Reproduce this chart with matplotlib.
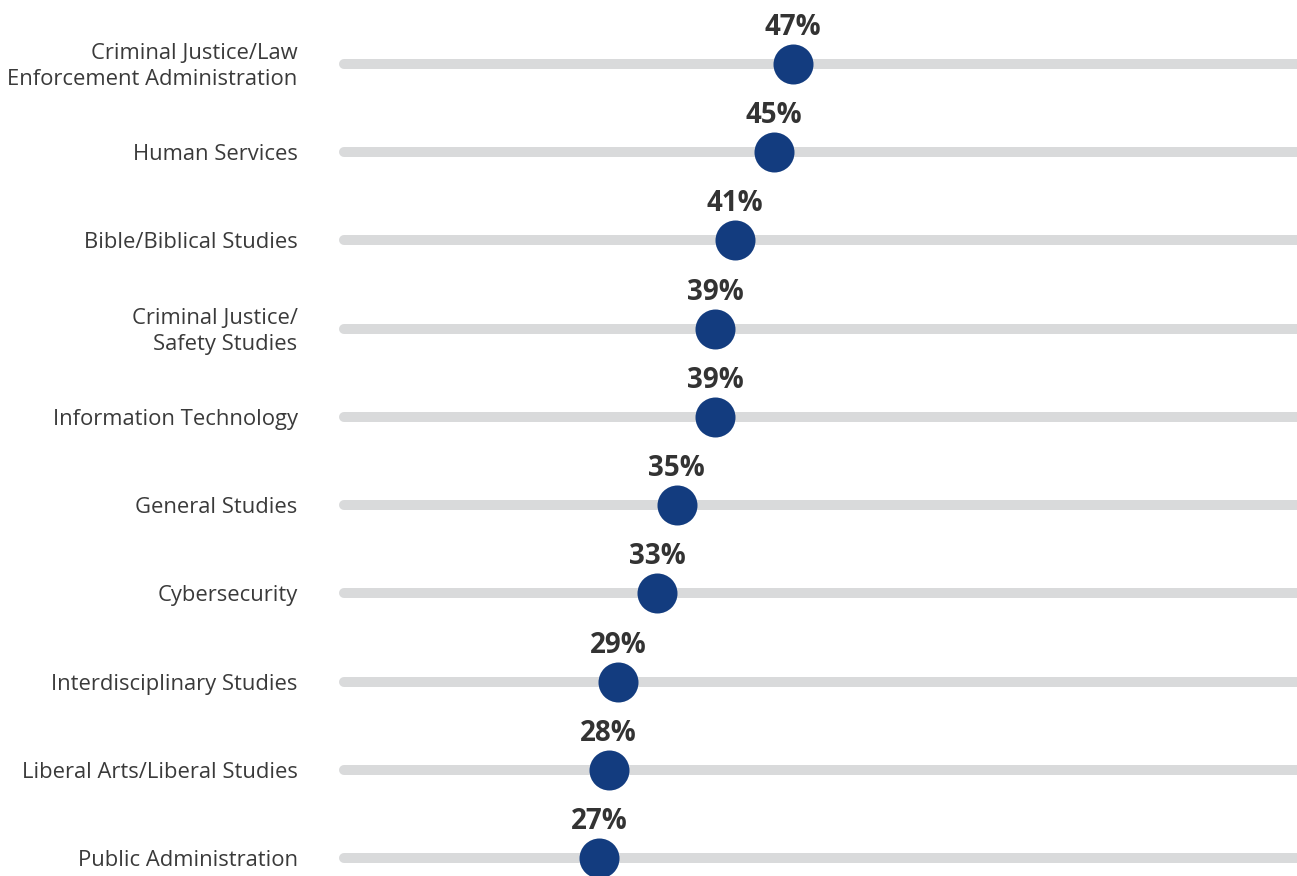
import matplotlib
matplotlib.use("Agg")
import matplotlib.pyplot as plt

categories = [
    "Criminal Justice/Law\nEnforcement Administration",
    "Human Services",
    "Bible/Biblical Studies",
    "Criminal Justice/\nSafety Studies",
    "Information Technology",
    "General Studies",
    "Cybersecurity",
    "Interdisciplinary Studies",
    "Liberal Arts/Liberal Studies",
    "Public Administration",
]
values = [47, 45, 41, 39, 39, 35, 33, 29, 28, 27]
value_labels = [f"{v}%" for v in values]

W, H = 1297, 876
fig = plt.figure(figsize=(W / 100, H / 100), dpi=100)
ax = fig.add_axes([0, 0, 1, 1])

px_per_unit = 9.7
x0_px = 337.1
row_px = 88.22
row0_px = 64

ax.set_xlim(-x0_px / px_per_unit, (W - x0_px) / px_per_unit)
ax.set_ylim((H - row0_px) / row_px, -row0_px / row_px)
ax.axis("off")

track_color = "#d9dadb"
dot_color = "#133c7f"
text_color = "#3a3a3a"
label_color = "#333333"

ys = list(range(len(categories)))
lc = ax.hlines(ys, 0.7, 100, color=track_color, linewidth=7.2, zorder=1)
lc.set_capstyle("round")
ax.scatter(values, ys, s=(40 * 0.72) ** 2, color=dot_color, zorder=3, linewidths=0)

label_x = (297.5 - x0_px) / px_per_unit
for y, cat in zip(ys, categories):
    ax.text(label_x, y + 2.5 / row_px, cat, ha="right", va="center", fontsize=15.8,
            family=["Open Sans", "DejaVu Sans"], color=text_color,
            linespacing=1.3)

for y, v, lab in zip(ys, values, value_labels):
    ax.text(v, y - 36.5 / row_px, lab, ha="center", va="center", fontsize=20,
            fontweight="bold", family=["Open Sans", "DejaVu Sans"],
            color=label_color, zorder=4)

fig.savefig("out.png", dpi=100)
